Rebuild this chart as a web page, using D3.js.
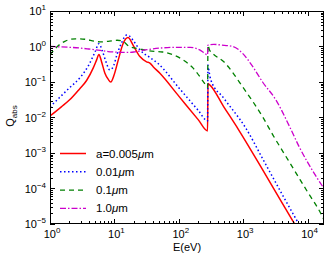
<!DOCTYPE html>
<html>
<head>
<meta charset="utf-8">
<script src="https://cdn.jsdelivr.net/npm/d3@7"></script>
<style>
  body { margin: 0; background: #fff; }
  svg { display: block; }
  text { font-family: "Liberation Sans", Arial, sans-serif; fill: #000; }
</style>
</head>
<body>
<div id="chart"></div>
<script>
'use strict';

// a = 0.005 um
var eRed = [1, 1.5, 2, 2.9, 3.7, 4.7, 5.3, 5.75, 6.3, 7.1, 8, 8.8, 9.8, 11.5, 13.7, 16.3, 19.5, 24.9, 31.6, 35.6, 40, 50.9, 100, 200, 280, 284, 302, 500, 850, 2000, 4000, 6300, 8000];
var qRed = [0.011, 0.02, 0.031, 0.065, 0.11, 0.25, 0.42, 0.6, 0.38, 0.18, 0.12, 0.1, 0.15, 0.42, 1.23, 1.8, 1.1, 0.52, 0.37, 0.34, 0.27, 0.176, 0.04, 0.0087, 0.0042, 0.09, 0.083, 0.02, 0.0045, 0.00034, 0.00004, 0.00001, 0.000005];

// a = 0.01 um
var eBlue = [1, 1.5, 2, 3, 4, 5, 5.75, 6.5, 7.3, 8.5, 9.5, 11, 13, 15.5, 17, 20, 25, 35, 47, 100, 200, 280, 284, 295, 314, 500, 1100, 2000, 4000, 7300, 9000];
var qBlue = [0.02, 0.041, 0.068, 0.14, 0.3, 0.7, 1.2, 0.75, 0.4, 0.22, 0.26, 0.6, 1.3, 2.1, 2.0, 1.4, 0.8, 0.5, 0.34, 0.069, 0.016, 0.008, 0.3, 0.2, 0.115, 0.035, 0.005, 0.0007, 0.00007, 0.00001, 0.000005];

// a = 0.1 um
var eGreen = [1, 1.3, 1.7, 2.5, 3.5, 5, 6, 8, 11, 14, 17, 25, 35, 56, 116, 166, 253, 280, 284, 300, 335, 500, 1020, 2000, 2900, 5000, 10000, 16500, 18000];
var qGreen = [0.58, 1.0, 1.4, 1.65, 1.6, 1.4, 1.35, 1.4, 1.5, 1.35, 1.0, 0.85, 0.75, 0.7, 0.42, 0.25, 0.09, 0.07, 1.1, 0.8, 0.64, 0.37, 0.066, 0.0105, 0.0032, 0.00063, 0.00008, 0.000018, 0.000013];

// a = 1.0 um
var eMag = [1, 2, 3, 4, 6, 8, 10, 15, 20, 30, 50, 100, 150, 211, 254, 280, 284, 350, 450, 690, 980, 1410, 2000, 3200, 5400, 7400, 13800, 18000];
var qMag = [1.0, 0.95, 0.9, 0.85, 0.78, 0.72, 0.7, 0.68, 0.7, 0.8, 0.9, 0.95, 0.95, 0.8, 0.64, 0.58, 1.1, 1.15, 1.1, 1.0, 0.64, 0.27, 0.1, 0.032, 0.005, 0.0015, 0.00021, 0.0001];

var seriesLabels = ['a=0.005', '0.01', '0.1', '1.0'];
var xDomain = [1, 18000];
var yDomain = [1e-5, 10];

var series = [
  { e: eRed, q: qRed, color: '#ff0000', dash: null, width: 1.5 },
  { e: eBlue, q: qBlue, color: '#0000ff', dash: '1.5,2.5', width: 1.5 },
  { e: eGreen, q: qGreen, color: '#008000', dash: '5,4', width: 1.3 },
  { e: eMag, q: qMag, color: '#cc00cc', dash: '6,2,1.5,2', width: 1.3 }
];

var W = 332, H = 259;
var margin = { top: 11, right: 8, bottom: 35, left: 50 };
var iw = W - margin.left - margin.right;
var ih = H - margin.top - margin.bottom;

var svg = d3.select('#chart').append('svg')
  .attr('width', W)
  .attr('height', H);

var x = d3.scaleLog().domain(xDomain).range([0, iw]);
var y = d3.scaleLog().domain(yDomain).range([ih, 0]);

var g = svg.append('g').attr('transform', 'translate(' + margin.left + ',' + margin.top + ')');

g.append('clipPath').attr('id', 'clip')
  .append('rect').attr('width', iw).attr('height', ih);

// curves
var line = d3.line()
  .x(function (d) { return x(d[0]); })
  .y(function (d) { return y(d[1]); })
  .curve(d3.curveMonotoneX);

var curves = g.append('g').attr('clip-path', 'url(#clip)');
series.forEach(function (s) {
  var pts = s.e.map(function (e, i) { return [e, s.q[i]]; });
  curves.append('path')
    .datum(pts)
    .attr('fill', 'none')
    .attr('stroke', s.color)
    .attr('stroke-width', s.width)
    .attr('stroke-dasharray', s.dash)
    .attr('d', line);
});

// ticks on all four sides, pointing inwards
function isMajor(v) {
  var l = Math.log10(v);
  return Math.abs(l - Math.round(l)) < 1e-9;
}

var xt = x.ticks(), yt = y.ticks();
var ticks = g.append('g').attr('stroke', '#000').attr('stroke-width', 1);
xt.forEach(function (v) {
  var px = Math.round(x(v)) + 0.5;
  var len = isMajor(v) ? 5 : 3;
  ticks.append('line').attr('x1', px).attr('x2', px).attr('y1', ih).attr('y2', ih - len);
  ticks.append('line').attr('x1', px).attr('x2', px).attr('y1', 0).attr('y2', len);
});
yt.forEach(function (v) {
  var py = Math.round(y(v)) + 0.5;
  var len = isMajor(v) ? 5 : 3;
  ticks.append('line').attr('x1', 0).attr('x2', len).attr('y1', py).attr('y2', py);
  ticks.append('line').attr('x1', iw).attr('x2', iw - len).attr('y1', py).attr('y2', py);
});

g.append('rect')
  .attr('x', 0.5).attr('y', 0.5)
  .attr('width', iw - 1).attr('height', ih - 1)
  .attr('fill', 'none')
  .attr('stroke', '#000')
  .attr('stroke-width', 1);

// tick labels
function powLabel(sel, v) {
  var p = Math.round(Math.log10(v));
  sel.append('tspan').text('10');
  sel.append('tspan')
    .attr('dy', -5)
    .attr('font-size', 8)
    .text(p < 0 ? '\u2212' + (-p) : p);
}

xt.filter(isMajor).forEach(function (v) {
  var t = g.append('text')
    .attr('x', x(v) + 2)
    .attr('y', ih + 14)
    .attr('text-anchor', 'middle')
    .attr('font-size', 11);
  powLabel(t, v);
});
yt.filter(isMajor).forEach(function (v) {
  var t = g.append('text')
    .attr('x', -4)
    .attr('y', y(v) + 4)
    .attr('text-anchor', 'end')
    .attr('font-size', 11);
  powLabel(t, v);
});

// axis titles
svg.append('text')
  .attr('x', 187)
  .attr('y', 251)
  .attr('text-anchor', 'middle')
  .attr('font-size', 11)
  .text('E(eV)');

var yl = svg.append('text')
  .attr('transform', 'translate(14,116) rotate(-90)')
  .attr('text-anchor', 'middle')
  .attr('font-size', 11);
yl.append('tspan').text('Q');
yl.append('tspan').attr('font-size', 8).attr('dy', 3).text('abs');

// legend
var leg = svg.append('g');
series.forEach(function (s, i) {
  var ly = 153.5 + i * 18.3;
  leg.append('line')
    .attr('x1', 60).attr('x2', 86)
    .attr('y1', ly).attr('y2', ly)
    .attr('stroke', s.color)
    .attr('stroke-width', s.width)
    .attr('stroke-dasharray', s.dash);
  var t = leg.append('text')
    .attr('x', 96)
    .attr('y', ly + 4)
    .attr('font-size', 11.5);
  t.append('tspan').text(seriesLabels[i]);
  t.append('tspan').attr('font-style', 'italic').text('\u03bc');
  t.append('tspan').text('m');
});
</script>
</body>
</html>
